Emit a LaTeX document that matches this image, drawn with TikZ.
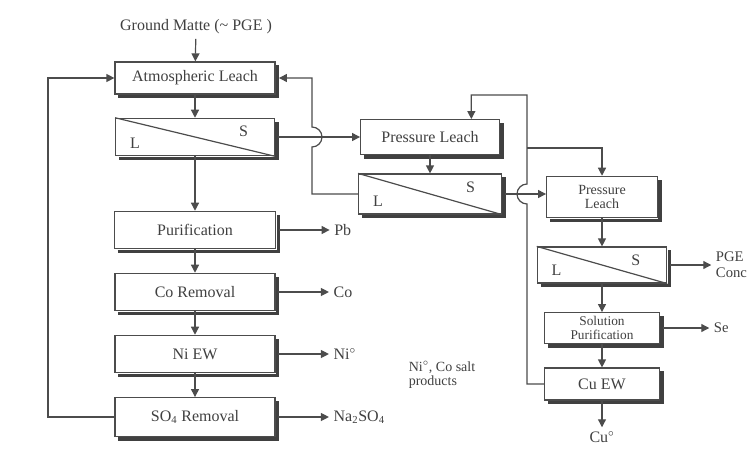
\documentclass[tikz,border=0pt]{standalone}
\usepackage{fontspec}
\setmainfont{Liberation Serif}
\usetikzlibrary{positioning,arrows.meta}

\tikzset{
  unit/.style={draw=black!70, line width=0.9pt, fill=white, align=center,
    minimum width=#1, minimum height=28pt, inner sep=2pt,
    font=\fontsize{12}{13}\selectfont, text=black!75},
  twoline/.style={font=\fontsize{10.5}{10.5}\selectfont},
  shade/.style={draw=black!75, line width=2.4pt},
  flow/.style={draw=black!70, line width=0.9pt, -{Triangle[width=6pt,length=6pt]}},
  pipe/.style={draw=black!70, line width=0.9pt},
  tag/.style={font=\fontsize{12}{13}\selectfont, text=black!75, align=left},
  phase/.style={font=\fontsize{12}{13}\selectfont, text=black!75, inner sep=0pt}
}

\begin{document}
\begin{tikzpicture}[x=0.75pt, y=-0.75pt]
  \useasboundingbox (0,0) rectangle (749,461);

  % Feed on top
  \node[tag] (feed) at (196,27) {Ground Matte (\textasciitilde{} PGE )};

  % Left column: nickel line
  \node[unit=120pt, minimum height=24pt] (atm) at (195,78) {Atmospheric Leach};
  \node[unit=119pt] (sepA) at (195,137) {};
  \node[unit=121pt] (pur) at (195,230) {Purification};
  \node[unit=120pt] (cor) at (195,292) {Co Removal};
  \node[unit=120pt] (niew) at (195,354) {Ni EW};
  \node[unit=120pt, minimum height=29pt] (so4) at (195,417) {SO\textsubscript{4} Removal};

  % Right side: copper line
  \node[unit=104pt, minimum height=26pt] (plA) at (430,137) {Pressure Leach};
  \node[unit=107pt, minimum height=30pt] (sepB) at (430,194) {};
  \node[unit=83pt, minimum height=31pt, twoline] (plB) at (602,197) {Pressure\\Leach};
  \node[unit=97pt, minimum height=27pt] (sepC) at (602,265) {};
  \node[unit=86pt, minimum height=23pt, twoline, font=\fontsize{10}{10}\selectfont] (sp) at (602,328) {Solution\\Purification};
  \node[unit=86pt, minimum height=24pt] (cuew) at (602,384) {Cu EW};

  % Dark edge under and right of every box
  \foreach \b in {atm,sepA,pur,cor,niew,so4,plA,sepB,plB,sepC,sp,cuew}
    \draw[shade] ([shift={(3pt,-1.6pt)}]\b.south west) -- ([shift={(1.6pt,-1.6pt)}]\b.south east)
      -- ([shift={(1.6pt,-3pt)}]\b.north east);

  % Liquid / solid split in the separators
  \foreach \s in {sepA,sepB,sepC} {
    \draw[pipe] (\s.north west) -- (\s.south east);
    \node[phase] (\s L) [above right=6pt and 11pt of \s.south west] {L};
    \node[phase] (\s S) [below left=6pt and 20pt of \s.north east] {S};
  }

  % Products
  \node[tag] (pb) [right=40pt of pur] {Pb};
  \node[tag] (co) [right=40pt of cor] {Co};
  \node[tag] (ni) [right=40pt of niew] {Ni$^{\circ}$};
  \node[tag] (naso) [right=40pt of so4] {Na\textsubscript{2}SO\textsubscript{4}};
  \node[tag, font=\fontsize{11}{12}\selectfont] (pge) [right=33pt of sepC] {PGE\\Conc};
  \node[tag, font=\fontsize{11}{12}\selectfont] (se) [right=37pt of sp] {Se};
  \node[tag] (cu) [below=20pt of cuew] {Cu$^{\circ}$};
  \node[tag, font=\fontsize{10.5}{11}\selectfont] (salt) at (442,375) {Ni$^{\circ}$, Co salt\\products};

  % Main flow down the columns
  \draw[flow] (feed) -- (atm);
  \draw[flow] (atm) -- (sepA);
  \draw[flow] (sepA) -- (pur);
  \draw[flow] (pur) -- (cor);
  \draw[flow] (cor) -- (niew);
  \draw[flow] (niew) -- (so4);
  \draw[flow] (plA) -- (sepB);
  \draw[flow] (plB) -- (sepC);
  \draw[flow] (sepC) -- (sp);
  \draw[flow] (sp) -- (cuew);
  \draw[flow] (cuew) -- (cu);

  % Side streams
  \draw[flow] ([xshift=2pt]pur.east) -- (pb);
  \draw[flow] ([xshift=2pt]cor.east) -- (co);
  \draw[flow] ([xshift=2pt]niew.east) -- (ni);
  \draw[flow] ([xshift=2pt]so4.east) -- (naso);
  \draw[flow] ([xshift=2pt]sepC.east) -- (sepC -| pge.west);
  \draw[flow] ([xshift=2pt]sp.east) -- (sp -| se.west);
  \draw[flow] ([xshift=2pt]sepA.east) -- (plA);
  \draw[flow] ([xshift=2pt]sepB.east) -- (sepB -| plB.west);

  % Recycle loops
  \coordinate (backL) at (48,78);
  \draw[flow] (so4.west) -| (backL) -- (atm.west);

  \coordinate (hopA) at (312,147);
  \draw[flow] (sepB.west) -| (hopA) arc[start angle=-90, end angle=90, radius=7.5pt] |- ([xshift=2.5pt]atm.east);

  \coordinate (hopB) at (527,204);
  \coordinate (topB) at (527,95);
  \coordinate (splitB) at (527,148);
  \draw[flow] (cuew.west) -| (hopB) arc[start angle=270, end angle=90, radius=7.5pt] -- (topB) -| ([xshift=31pt]plA.north);
  \draw[flow] (splitB) -| (plB.north);
\end{tikzpicture}
\end{document}
